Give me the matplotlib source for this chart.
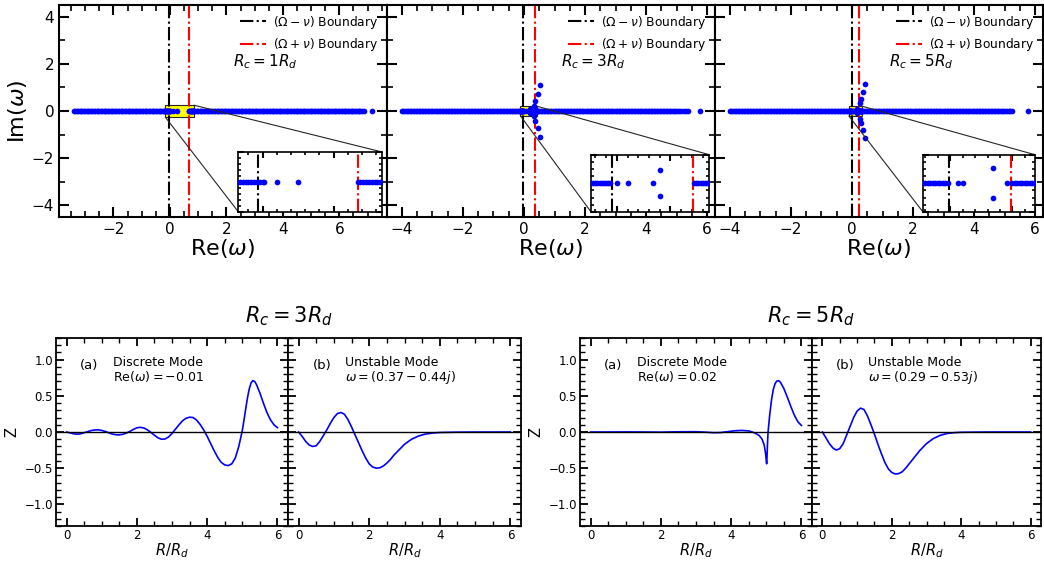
import numpy as np
import matplotlib
matplotlib.use("Agg")
import matplotlib.pyplot as plt
from matplotlib.ticker import MultipleLocator
from mpl_toolkits.axes_grid1.inset_locator import mark_inset

plt.rcParams["font.family"] = ["DejaVu Sans"]
plt.rcParams["mathtext.fontset"] = "dejavusans"

# ---------------- eigenvalue spectra (top row) ----------------
# continuum eigenvalues on the real axis (shared grid, trimmed per run)
grid_neg = [-4.00, -3.95, -3.90, -3.85, -3.80, -3.75, -3.70, -3.65, -3.60, -3.55,
            -3.50, -3.45, -3.40, -3.35, -3.30, -3.25, -3.20, -3.15, -3.10, -3.05,
            -3.00, -2.95, -2.90, -2.85, -2.80, -2.75, -2.70, -2.65, -2.60, -2.55,
            -2.50, -2.45, -2.40, -2.35, -2.30, -2.25, -2.20, -2.15, -2.10, -2.05,
            -2.00, -1.95, -1.90, -1.85, -1.80, -1.75, -1.70, -1.65, -1.60, -1.55,
            -1.50, -1.45, -1.40, -1.35, -1.30, -1.25, -1.20, -1.15, -1.10, -1.05,
            -1.00, -0.95, -0.90, -0.85, -0.80, -0.75, -0.70, -0.65, -0.60, -0.55,
            -0.50, -0.45, -0.40, -0.35, -0.30, -0.25, -0.20]
grid_pos = [0.40, 0.45, 0.50, 0.55, 0.60, 0.65, 0.70, 0.75, 0.80, 0.85,
            0.90, 0.95, 1.00, 1.05, 1.10, 1.15, 1.20, 1.25, 1.30, 1.35,
            1.40, 1.45, 1.50, 1.55, 1.60, 1.65, 1.70, 1.75, 1.80, 1.85,
            1.90, 1.95, 2.00, 2.05, 2.10, 2.15, 2.20, 2.25, 2.30, 2.35,
            2.40, 2.45, 2.50, 2.55, 2.60, 2.65, 2.70, 2.75, 2.80, 2.85,
            2.90, 2.95, 3.00, 3.05, 3.10, 3.15, 3.20, 3.25, 3.30, 3.35,
            3.40, 3.45, 3.50, 3.55, 3.60, 3.65, 3.70, 3.75, 3.80, 3.85,
            3.90, 3.95, 4.00, 4.05, 4.10, 4.15, 4.20, 4.25, 4.30, 4.35,
            4.40, 4.45, 4.50, 4.55, 4.60, 4.65, 4.70, 4.75, 4.80, 4.85,
            4.90, 4.95, 5.00, 5.05, 5.10, 5.15, 5.20, 5.25, 5.30, 5.35,
            5.40, 5.45, 5.50, 5.55, 5.60, 5.65, 5.70, 5.75, 5.80, 5.85,
            5.90, 5.95, 6.00, 6.05, 6.10, 6.15, 6.20, 6.25, 6.30, 6.35,
            6.40, 6.45, 6.50, 6.55, 6.60, 6.65, 6.70]

# Rc = 1 Rd
range1_neg = (-3.40, -0.20)
range1_pos = (0.90, 6.70)
fine1_left = [-0.18, -0.16, -0.14, -0.12, -0.10, -0.08, -0.06, -0.04, -0.02, 0.0]
fine1_right = [0.67, 0.69, 0.71, 0.73, 0.75, 0.77, 0.79, 0.81, 0.83, 0.85]
tail1 = [6.75, 6.81, 6.87]
real1 = [0.012, 0.10, 0.25, 7.16]
pair1_re = []
pair1_im = []
bound1_minus, bound1_plus = -0.03, 0.67

# Rc = 3 Rd
range2_neg = (-4.00, -0.20)
range2_pos = (0.45, 5.00)
fine2_left = [-0.15, -0.13, -0.12, -0.11, -0.10, -0.09, -0.08, -0.07, -0.06, -0.05, -0.04, -0.03]
fine2_right = [0.36, 0.37, 0.38, 0.39, 0.40, 0.41, 0.42, 0.43, 0.44]
tail2 = [5.08, 5.16, 5.24, 5.31, 5.37]
real2 = [0.003, 0.05, 0.17, 5.77]
pair2_re = [0.20, 0.33, 0.37, 0.46, 0.52]
pair2_im = [0.09, 0.22, 0.44, 0.73, 1.12]
bound2_minus, bound2_plus = -0.02, 0.355

# Rc = 5 Rd
range3_neg = (-4.00, -0.20)
range3_pos = (0.40, 5.00)
fine3_left = [-0.15, -0.11, -0.10, -0.09, -0.08, -0.07, -0.06, -0.05, -0.04, -0.03, -0.02, -0.01]
fine3_right = [0.25, 0.26, 0.27, 0.28, 0.29, 0.30, 0.31, 0.32, 0.33, 0.34]
tail3 = [5.07, 5.13, 5.19, 5.25]
real3 = [0.03, 0.05, 0.23, 5.77]
pair3_re = [0.17, 0.25, 0.29, 0.36, 0.43]
pair3_im = [0.105, 0.34, 0.53, 0.79, 1.16]
bound3_minus, bound3_plus = -0.005, 0.245

rc_labels = [r"$R_c = 1R_d$", r"$R_c = 3R_d$", r"$R_c = 5R_d$"]

# ---------------- mode shapes (bottom row) ----------------
r_a3 = [0.0, 0.1, 0.2, 0.3, 0.4, 0.5, 0.6, 0.7, 0.8, 0.9, 1.0, 1.1, 1.2, 1.3, 1.4, 1.5, 1.6, 1.7,
        1.8, 1.9, 2.0, 2.1, 2.2, 2.3, 2.4, 2.5, 2.6, 2.7, 2.8, 2.9, 3.0, 3.1, 3.2, 3.3, 3.4, 3.5,
        3.6, 3.7, 3.8, 3.9, 4.0, 4.1, 4.2, 4.3, 4.4, 4.5, 4.6, 4.7, 4.8, 4.9, 5.0, 5.05, 5.1,
        5.15, 5.2, 5.25, 5.3, 5.35, 5.4, 5.5, 5.6, 5.7, 5.8, 5.9, 6.0]
z_a3 = [0.0, -0.012, -0.025, -0.03, -0.025, -0.01, 0.005, 0.02, 0.028, 0.03, 0.022, 0.008,
        -0.01, -0.028, -0.038, -0.04, -0.032, -0.015, 0.008, 0.035, 0.058, 0.065, 0.055, 0.03,
        -0.005, -0.045, -0.08, -0.10, -0.097, -0.07, -0.02, 0.04, 0.10, 0.155, 0.19, 0.205, 0.2,
        0.165, 0.105, 0.03, -0.06, -0.16, -0.26, -0.35, -0.42, -0.455, -0.465, -0.44, -0.36,
        -0.2, 0.02, 0.17, 0.33, 0.48, 0.6, 0.68, 0.71, 0.70, 0.66, 0.54, 0.40, 0.27, 0.17, 0.10,
        0.06]

r_b3 = [0.0, 0.1, 0.2, 0.3, 0.4, 0.5, 0.6, 0.7, 0.8, 0.9, 1.0, 1.1, 1.2, 1.3, 1.4, 1.5, 1.6, 1.7,
        1.8, 1.9, 2.0, 2.1, 2.2, 2.3, 2.4, 2.5, 2.6, 2.7, 2.8, 2.9, 3.0, 3.2, 3.4, 3.6, 3.8, 4.0,
        4.5, 5.0, 6.0]
z_b3 = [0.0, -0.06, -0.13, -0.18, -0.20, -0.19, -0.13, -0.05, 0.03, 0.12, 0.20, 0.255, 0.27,
        0.245, 0.17, 0.07, -0.04, -0.15, -0.26, -0.36, -0.44, -0.485, -0.50, -0.495, -0.47,
        -0.43, -0.38, -0.32, -0.27, -0.22, -0.17, -0.10, -0.055, -0.028, -0.014, -0.007,
        -0.002, -0.0005, 0.0]

r_a5 = [0.0, 0.5, 1.0, 1.5, 2.0, 2.5, 3.0, 3.3, 3.5, 3.7, 3.9, 4.1, 4.3, 4.5, 4.6, 4.7, 4.8,
        4.88, 4.94, 4.98, 5.0, 5.01, 5.02, 5.035, 5.05, 5.1, 5.15, 5.2, 5.25, 5.3, 5.35, 5.4,
        5.5, 5.6, 5.7, 5.8, 5.9, 6.0]
z_a5 = [0.0, 0.0, 0.001, 0.0, -0.002, 0.003, 0.004, -0.003, -0.01, -0.008, 0.005, 0.017,
        0.022, 0.015, 0.0, -0.02, -0.05, -0.10, -0.18, -0.30, -0.40, -0.44, -0.35, -0.15, 0.0,
        0.25, 0.45, 0.59, 0.67, 0.705, 0.71, 0.69, 0.60, 0.48, 0.35, 0.23, 0.14, 0.09]

r_b5 = [0.0, 0.1, 0.2, 0.3, 0.4, 0.5, 0.6, 0.7, 0.8, 0.9, 1.0, 1.1, 1.2, 1.3, 1.4, 1.5, 1.6, 1.7,
        1.8, 1.9, 2.0, 2.1, 2.2, 2.3, 2.4, 2.5, 2.6, 2.7, 2.8, 2.9, 3.0, 3.2, 3.4, 3.6, 3.8, 4.0,
        4.5, 5.0, 6.0]
z_b5 = [0.0, -0.08, -0.16, -0.22, -0.25, -0.23, -0.16, -0.04, 0.08, 0.20, 0.29, 0.33, 0.31,
        0.22, 0.10, -0.03, -0.17, -0.30, -0.42, -0.51, -0.56, -0.58, -0.575, -0.55, -0.50,
        -0.44, -0.38, -0.32, -0.26, -0.21, -0.16, -0.09, -0.045, -0.02, -0.009, -0.004,
        -0.001, 0.0, 0.0]

mode_titles = [r"$R_c = 3R_d$", r"$R_c = 5R_d$"]
mode_text_a = ["Discrete Mode\nRe$(\\omega) = -0.01$", "Discrete Mode\nRe$(\\omega) = 0.02$"]
mode_text_b = ["Unstable Mode\n$\\omega = (0.37 - 0.44j)$", "Unstable Mode\n$\\omega = (0.29 - 0.53j)$"]

# ---------------- figure ----------------
W, H = 1044, 562
fig = plt.figure(figsize=(W / 100, H / 100), dpi=100)


def px_box(x0, x1, y0, y1):
    return [x0 / W, 1 - y1 / H, (x1 - x0) / W, (y1 - y0) / H]


def style_top(ax, major=7, minor=4):
    for s in ax.spines.values():
        s.set_linewidth(1.5)
    ax.tick_params(which="both", direction="in", top=True, right=True)
    ax.tick_params(which="major", length=major, width=1.5)
    ax.tick_params(which="minor", length=minor, width=1.2)


def in_range(values, bounds):
    lo, hi = bounds
    return [v for v in values if lo - 1e-9 <= v <= hi + 1e-9]


spectra = [
    (in_range(grid_neg, range1_neg) + fine1_left,
     fine1_right + in_range(grid_pos, range1_pos) + tail1,
     real1, pair1_re, pair1_im, bound1_minus, bound1_plus),
    (in_range(grid_neg, range2_neg) + fine2_left,
     fine2_right + in_range(grid_pos, range2_pos) + tail2,
     real2, pair2_re, pair2_im, bound2_minus, bound2_plus),
    (in_range(grid_neg, range3_neg) + fine3_left,
     fine3_right + in_range(grid_pos, range3_pos) + tail3,
     real3, pair3_re, pair3_im, bound3_minus, bound3_plus),
]
top_boxes = [(59, 387), (387, 715), (715, 1043)]
top_xlims = [(-3.93, 7.69), (-4.49, 6.26), (-4.49, 6.26)]
inset_boxes = [[0.547, 0.024, 0.437, 0.283], [0.622, 0.024, 0.360, 0.270],
               [0.634, 0.024, 0.341, 0.270]]
inset_xlims = [(-0.17, 0.84), (-0.12, 0.43), (-0.11, 0.34)]
inset_ylims = [(-0.25, 0.25), (-0.2, 0.2), (-0.2, 0.2)]


def draw_spectrum(ax, data):
    cl, cr, rl, pre, pim, bm, bp = data
    re_vals = np.array(cl + cr + rl + pre + pre, dtype=float)
    im_vals = np.array([0.0] * len(cl + cr + rl) + pim + [-v for v in pim], dtype=float)
    ax.plot(re_vals, im_vals, linestyle="none", marker="o", markersize=4.1,
            markerfacecolor="blue", markeredgewidth=0, zorder=3)
    ax.axvline(bm, color="black", ls="-.", lw=1.5, zorder=2,
               label=r"$(\Omega - \nu)$ Boundary")
    ax.axvline(bp, color="red", ls="-.", lw=1.5, zorder=2,
               label=r"$(\Omega + \nu)$ Boundary")


for k in range(3):
    x0, x1 = top_boxes[k]
    ax = fig.add_axes(px_box(x0, x1, 5, 217))
    draw_spectrum(ax, spectra[k])
    ax.set_xlim(*top_xlims[k])
    ax.set_ylim(-4.5, 4.5)
    ax.xaxis.set_major_locator(MultipleLocator(2))
    ax.xaxis.set_minor_locator(MultipleLocator(0.5))
    ax.yaxis.set_major_locator(MultipleLocator(2))
    ax.yaxis.set_minor_locator(MultipleLocator(1))
    style_top(ax)
    ax.tick_params(labelsize=11)
    ax.set_xlabel(r"Re$(\omega)$", fontsize=16, labelpad=0)
    if k == 0:
        ax.set_ylabel(r"Im$(\omega)$", fontsize=16, labelpad=2)
    else:
        ax.tick_params(labelleft=False)
    ax.legend(loc="upper right", fontsize=8.8, frameon=False, handlelength=2.1,
              handletextpad=0.6, borderaxespad=0.3, labelspacing=0.45)
    ax.text(0.63, 0.735, rc_labels[k], transform=ax.transAxes, fontsize=11,
            ha="center", va="center")

    axins = ax.inset_axes(inset_boxes[k])
    draw_spectrum(axins, spectra[k])
    axins.set_xlim(*inset_xlims[k])
    axins.set_ylim(*inset_ylims[k])
    axins.minorticks_on()
    style_top(axins, major=4, minor=2)
    for s in axins.spines.values():
        s.set_linewidth(1.2)
    axins.tick_params(labelbottom=False, labelleft=False)
    mark_inset(ax, axins, loc1=1, loc2=3, fc="yellow", ec="0.15", lw=0.8, zorder=1.5)

# mode shapes
bottom_boxes = [[(56, 288), (288, 521)], [(580, 812), (812, 1041)]]
mode_data = [[(r_a3, z_a3), (r_b3, z_b3)], [(r_a5, z_a5), (r_b5, z_b5)]]
for g in range(2):
    for j in range(2):
        x0, x1 = bottom_boxes[g][j]
        ax = fig.add_axes(px_box(x0, x1, 338, 526))
        r, z = mode_data[g][j]
        ax.plot(r, z, color="blue", lw=1.2)
        ax.axhline(0, color="black", lw=1.0)
        ax.set_xlim(-0.3, 6.3)
        ax.set_ylim(-1.3, 1.3)
        ax.xaxis.set_major_locator(MultipleLocator(2))
        ax.xaxis.set_minor_locator(MultipleLocator(0.5))
        ax.yaxis.set_major_locator(MultipleLocator(0.5))
        ax.yaxis.set_minor_locator(MultipleLocator(0.1))
        for s in ax.spines.values():
            s.set_linewidth(1.3)
        ax.tick_params(which="both", direction="in", top=True, right=True, labelsize=8.5,
                       pad=2)
        ax.tick_params(which="major", length=6, width=1.3)
        ax.tick_params(which="minor", length=3.5, width=1.0)
        ax.set_xlabel(r"$R/R_d$", fontsize=10.5, labelpad=0)
        if j == 0:
            ax.set_ylabel("Z", fontsize=10.5)
            tag, body = "(a)", mode_text_a[g]
        else:
            ax.tick_params(labelleft=False)
            tag, body = "(b)", mode_text_b[g]
        ax.text(0.105, 0.855, tag, transform=ax.transAxes, fontsize=9.5,
                ha="left", va="center")
        ax.text(0.245, 0.905, body, transform=ax.transAxes, fontsize=9,
                ha="left", va="top", linespacing=1.05)
    xl = bottom_boxes[g][0][0]
    xr = bottom_boxes[g][1][1]
    fig.text((xl + xr) / 2 / W, 1 - 322 / H, mode_titles[g], fontsize=15,
             ha="center", va="baseline")

fig.savefig("out.png", dpi=100)
